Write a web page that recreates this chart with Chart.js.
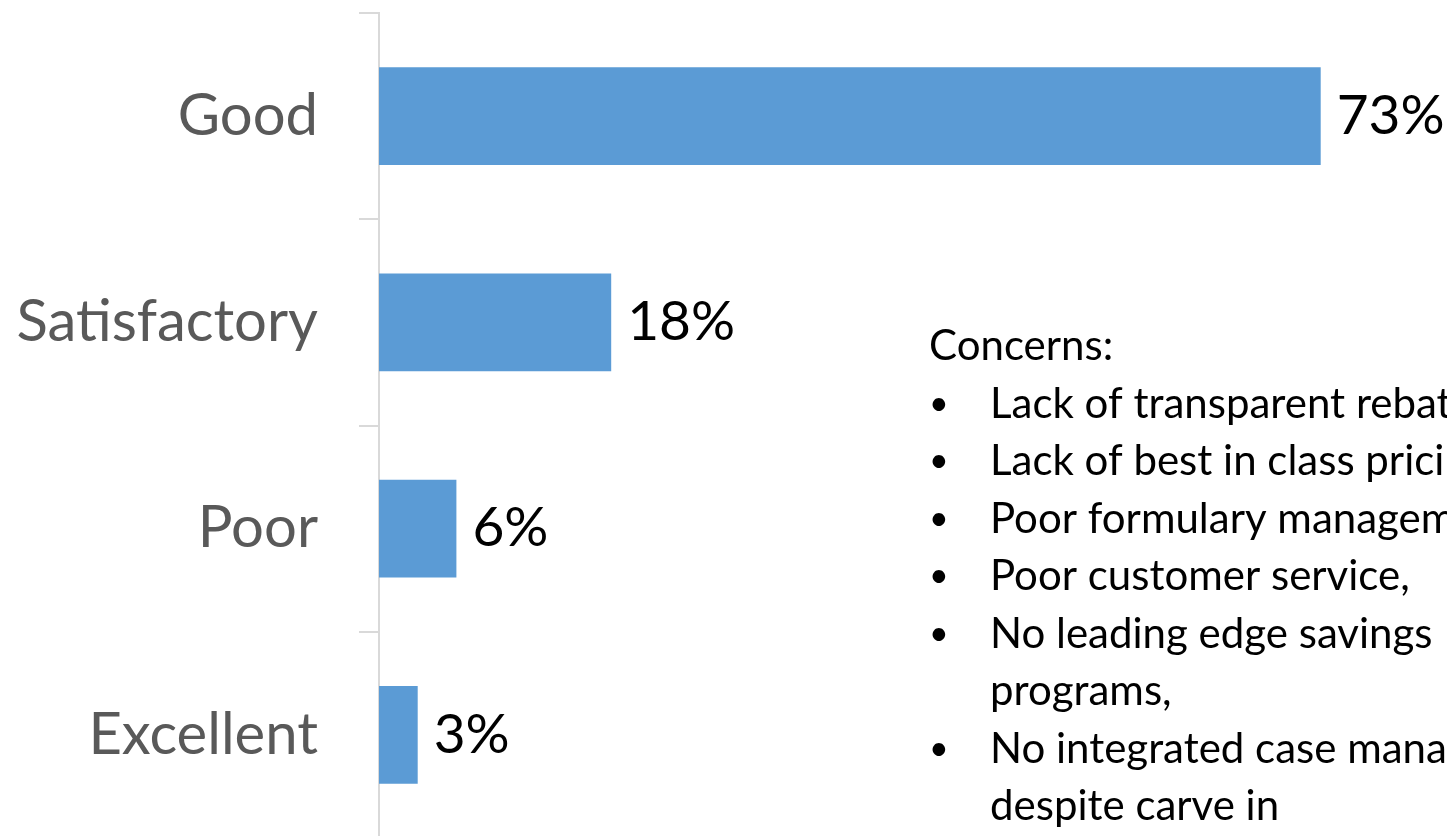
<!DOCTYPE html>
<html>
<head>
<meta charset="utf-8">
<script src="https://cdn.jsdelivr.net/npm/chart.js@4/dist/chart.umd.min.js"></script>
<style>
  html, body { margin: 0; padding: 0; background: #fff; overflow: hidden; }
  #wrap { width: 1447px; height: 842px; }
</style>
</head>
<body>
<div id="wrap"><canvas id="myChart" width="1447" height="842"></canvas></div>
<script>
// rating categories and share of responses (%)
const categories = ['Good', 'Satisfactory', 'Poor', 'Excellent'];
const shares = [73, 18, 6, 3];

// side note listing the concerns
const concernsTitle = 'Concerns:';
const concerns = [
    ['Lack of transparent rebates'],
    ['Lack of best in class pricing'],
    ['Poor formulary management'],
    ['Poor customer service,'],
    ['No leading edge savings', 'programs,'],
    ['No integrated case management', 'despite carve in']
];

const fontFamily = 'Lato, "Open Sans", sans-serif';

// percentage written just past the end of each bar
const valueLabels = {
    id: 'valueLabels',
    afterDatasetsDraw(chart) {
        const ctx = chart.ctx;
        const meta = chart.getDatasetMeta(0);
        ctx.save();
        ctx.font = '55px ' + fontFamily;
        ctx.fillStyle = '#000';
        ctx.textAlign = 'left';
        ctx.textBaseline = 'middle';
        meta.data.forEach((bar, i) => {
            ctx.fillText(shares[i] + '%', bar.x + 16, bar.y);
        });
        ctx.restore();
    }
};

// "Concerns" text block on the right
const concernsBox = {
    id: 'concernsBox',
    afterDraw(chart) {
        const ctx = chart.ctx;
        ctx.save();
        ctx.fillStyle = '#000';
        ctx.textBaseline = 'alphabetic';
        let y = 360;
        ctx.font = '42px ' + fontFamily;
        ctx.fillText(concernsTitle, 929, y);
        const step = 57.5;
        concerns.forEach(item => {
            item.forEach((line, j) => {
                y += step;
                if (j === 0) {
                    ctx.font = '34px ' + fontFamily;
                    ctx.fillText('\u2022', 929, y - 3);
                }
                ctx.font = '42px ' + fontFamily;
                ctx.fillText(line, 990, y);
            });
        });
        ctx.restore();
    }
};

const ctx = document.getElementById('myChart').getContext('2d');
const myChart = new Chart(ctx, {
    type: 'bar',
    data: {
        labels: categories,
        datasets: [{
            data: shares,
            backgroundColor: '#5B9BD5',
            categoryPercentage: 1,
            barPercentage: 0.475
        }]
    },
    options: {
        indexAxis: 'y',
        responsive: false,
        animation: false,
        layout: { padding: { top: 13, bottom: 4, left: 0, right: 36 } },
        plugins: {
            legend: { display: false },
            tooltip: { enabled: false }
        },
        scales: {
            x: {
                display: false,
                min: 0,
                max: 80
            },
            y: {
                afterFit(scale) {
                    scale.width = 379;
                    scale.paddingTop = 0;
                    scale.paddingBottom = 0;
                },
                border: { display: true, color: '#d9d9d9', width: 2 },
                grid: {
                    drawOnChartArea: false,
                    drawTicks: true,
                    tickLength: 20,
                    color: '#d9d9d9',
                    lineWidth: 2
                },
                ticks: {
                    color: '#595959',
                    padding: 41,
                    font: { family: fontFamily, size: 58 }
                }
            }
        }
    },
    plugins: [valueLabels, concernsBox]
});
</script>
</body>
</html>
